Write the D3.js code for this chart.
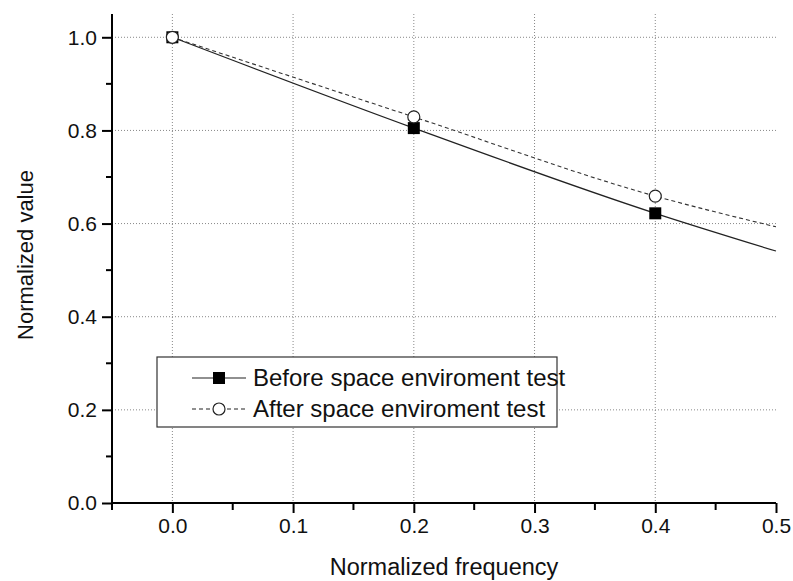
<!DOCTYPE html>
<html>
<head>
<meta charset="utf-8">
<script src="https://cdn.jsdelivr.net/npm/d3@7"></script>
<style>
  body { margin: 0; background: #fff; }
  svg { font-family: "Liberation Sans", Arial, sans-serif; }
  .axis text { font-size: 21px; font-family: "Liberation Sans", Arial, sans-serif; fill: #111; }
</style>
</head>
<body>
<svg id="chart" width="793" height="581"></svg>
<script>
// measured points (markers)
var freqPts = [0.0, 0.2, 0.4];
var beforePts = [1.0, 0.805, 0.622];
var afterPts = [1.0, 0.829, 0.659];
// fitted curve continues to the right edge
var curveFreq = [0.0, 0.2, 0.4, 0.5];
var beforeCurve = [1.0, 0.805, 0.622, 0.541];
var afterCurve = [1.0, 0.829, 0.659, 0.593];

var xTicks = [0.0, 0.1, 0.2, 0.3, 0.4, 0.5];
var xMinor = [-0.05, 0.05, 0.15, 0.25, 0.35, 0.45];
var yTicks = [0.0, 0.2, 0.4, 0.6, 0.8, 1.0];
var yMinor = [0.1, 0.3, 0.5, 0.7, 0.9];
var legendNames = ["Before space enviroment test", "After space enviroment test"];

var svg = d3.select("#chart"),
  margin = {top: 14, right: 17, bottom: 78, left: 112},
  width = +svg.attr("width") - margin.left - margin.right,
  height = +svg.attr("height") - margin.top - margin.bottom;
var g = svg.append("g").attr("transform", "translate(" + margin.left + "," + margin.top + ")");

var x = d3.scaleLinear().domain([-0.05, 0.5]).range([0, width]);
var y = d3.scaleLinear().domain([0, 1.05]).range([height, 0]);

// gridlines
g.append("g")
  .selectAll("line")
  .data(xTicks.filter(function(d) { return d < 0.5; }))
  .enter().append("line")
  .attr("x1", d => x(d)).attr("x2", d => x(d))
  .attr("y1", 0).attr("y2", height)
  .attr("stroke", "#888").attr("stroke-width", 1)
  .attr("stroke-dasharray", "1,2");

g.append("g")
  .selectAll("line")
  .data(yTicks.filter(function(d) { return d > 0; }))
  .enter().append("line")
  .attr("x1", 0).attr("x2", width)
  .attr("y1", d => y(d)).attr("y2", d => y(d))
  .attr("stroke", "#888").attr("stroke-width", 1)
  .attr("stroke-dasharray", "1,2");

// axes
var xAxis = g.append("g")
  .attr("class", "axis")
  .attr("transform", "translate(0," + height + ")")
  .call(d3.axisBottom(x).tickValues(xTicks).tickFormat(d3.format(".1f")).tickSize(10).tickPadding(5));
xAxis.append("g").selectAll("line")
  .data(xMinor).enter().append("line")
  .attr("x1", d => x(d)).attr("x2", d => x(d))
  .attr("y1", 0).attr("y2", 7)
  .attr("stroke", "#000").attr("stroke-width", 2);

var yAxis = g.append("g")
  .attr("class", "axis")
  .call(d3.axisLeft(y).tickValues(yTicks).tickFormat(d3.format(".1f")).tickSize(10).tickPadding(5));
yAxis.append("g").selectAll("line")
  .data(yMinor).enter().append("line")
  .attr("x1", -6).attr("x2", 0)
  .attr("y1", d => y(d)).attr("y2", d => y(d))
  .attr("stroke", "#000").attr("stroke-width", 2);

[xAxis, yAxis].forEach(function(a) {
  a.attr("font-size", 21).attr("font-family", "Liberation Sans, Arial, sans-serif");
  a.select(".domain").attr("stroke-width", 2);
  a.selectAll(".tick line").attr("stroke-width", 2);
});
xAxis.select(".domain").attr("d", "M0,0H" + width);
yAxis.select(".domain").attr("d", "M0," + height + "V0");

// curves
var line = d3.line()
  .x(d => x(d[0]))
  .y(d => y(d[1]))
  .curve(d3.curveMonotoneX);

g.append("path")
  .datum(curveFreq.map((f, i) => [f, beforeCurve[i]]))
  .attr("d", line)
  .attr("fill", "none").attr("stroke", "#222").attr("stroke-width", 1.2);

g.append("path")
  .datum(curveFreq.map((f, i) => [f, afterCurve[i]]))
  .attr("d", line)
  .attr("fill", "none").attr("stroke", "#333").attr("stroke-width", 1.1)
  .attr("stroke-dasharray", "4,3");

// markers
var sq = 12;
g.append("g").selectAll("rect")
  .data(freqPts.map((f, i) => [f, beforePts[i]]))
  .enter().append("rect")
  .attr("x", d => x(d[0]) - sq / 2)
  .attr("y", d => y(d[1]) - sq / 2)
  .attr("width", sq).attr("height", sq)
  .attr("fill", "#000");

g.append("g").selectAll("circle")
  .data(freqPts.map((f, i) => [f, afterPts[i]]))
  .enter().append("circle")
  .attr("cx", d => x(d[0]))
  .attr("cy", d => y(d[1]))
  .attr("r", 6)
  .attr("fill", "#fff").attr("stroke", "#222").attr("stroke-width", 1.2);

// legend
var lg = svg.append("g").attr("transform", "translate(157,357)");
lg.append("rect")
  .attr("width", 400).attr("height", 70)
  .attr("fill", "#fff").attr("stroke", "#333").attr("stroke-width", 1.2);

var rows = lg.selectAll(".lrow")
  .data(legendNames).enter().append("g")
  .attr("class", "lrow")
  .attr("transform", (d, i) => "translate(0," + (21 + i * 31) + ")");

rows.append("line")
  .attr("x1", 35).attr("x2", 89).attr("y1", 0).attr("y2", 0)
  .attr("stroke", "#222").attr("stroke-width", (d, i) => i === 0 ? 1.2 : 1.1)
  .attr("stroke-dasharray", (d, i) => i === 0 ? null : "4,3");

rows.filter((d, i) => i === 0).append("rect")
  .attr("x", 62 - sq / 2).attr("y", -sq / 2)
  .attr("width", sq).attr("height", sq).attr("fill", "#000");
rows.filter((d, i) => i === 1).append("circle")
  .attr("cx", 62).attr("cy", 0).attr("r", 6)
  .attr("fill", "#fff").attr("stroke", "#222").attr("stroke-width", 1.2);

rows.append("text")
  .attr("x", 96).attr("y", 0).attr("dy", "0.35em")
  .style("font-size", "24px").attr("fill", "#111")
  .text(d => d);

// axis titles
svg.append("text")
  .attr("x", 444)
  .attr("y", 575)
  .attr("text-anchor", "middle")
  .style("font-size", "23.5px").attr("fill", "#111")
  .text("Normalized frequency");

svg.append("text")
  .attr("transform", "translate(33,255) rotate(-90)")
  .attr("text-anchor", "middle")
  .style("font-size", "22px").attr("fill", "#111")
  .text("Normalized value");
</script>
</body>
</html>
